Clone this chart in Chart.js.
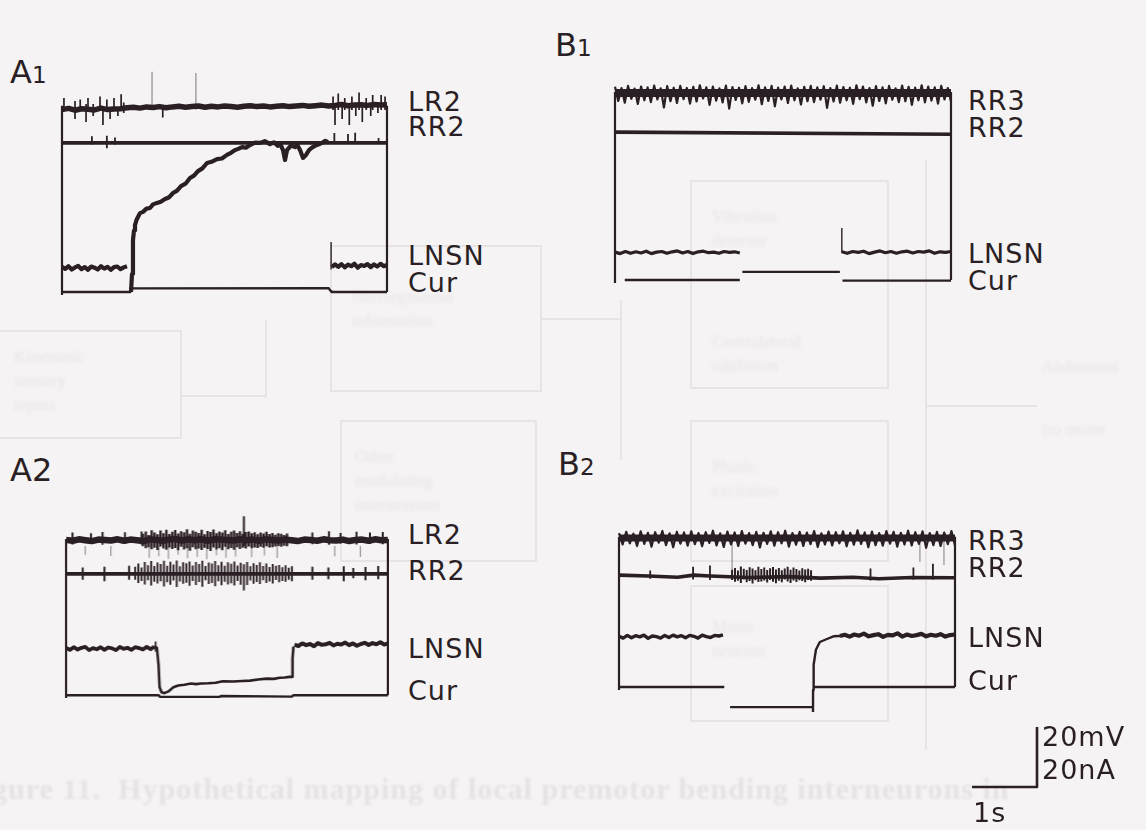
<!DOCTYPE html>
<html lang="en">
<head>
<meta charset="UTF-8">
<title>LNSN current injection records</title>
<script src="https://cdn.jsdelivr.net/npm/chart.js"></script>
<style>
  body { margin: 0; background: #f5f3f4; }
  .page {
    position: relative; width: 1146px; height: 830px; overflow: hidden;
    background: #f5f3f4; color: #2a1f24;
    font-family: 'DejaVu Sans', sans-serif;
  }
  /* faint show-through of the figure printed on the other side */
  .ghost { position: absolute; border: 2px solid #e8e4e6; }
  .ghost-line { position: absolute; background: #e8e4e6; }
  .ghost-text {
    position: absolute; color: #e9e5e7; font-family: 'Liberation Serif', serif;
    font-size: 17px; line-height: 24px; filter: blur(1.6px); white-space: nowrap;
  }
  .caption {
    position: absolute; left: -8px; top: 772px; color: #e6e2e4;
    font-family: 'Liberation Serif', serif; font-weight: bold; font-size: 30px; letter-spacing: 1px;
    white-space: nowrap; filter: blur(1px);
  }
  .panel { position: absolute; }
  .trace-label { position: absolute; font-size: 27px; line-height: 27px; letter-spacing: 1px; white-space: nowrap; }
  .panel-label { position: absolute; font-size: 32px; line-height: 32px; white-space: nowrap; }
  .panel-label .sm { font-size: 23px; }
</style>
</head>
<body>
<div class="page" id="page">
  <div class="ghost" style="left:-4px;top:330px;width:182px;height:105px"></div>
  <div class="ghost" style="left:330px;top:245px;width:208px;height:143px"></div>
  <div class="ghost" style="left:340px;top:420px;width:193px;height:138px"></div>
  <div class="ghost" style="left:690px;top:180px;width:195px;height:205px"></div>
  <div class="ghost" style="left:690px;top:420px;width:195px;height:138px"></div>
  <div class="ghost" style="left:690px;top:585px;width:195px;height:133px"></div>
  <div class="ghost-line" style="left:925px;top:160px;width:2px;height:590px"></div>
  <div class="ghost-line" style="left:180px;top:395px;width:85px;height:2px"></div>
  <div class="ghost-line" style="left:265px;top:320px;width:2px;height:78px"></div>
  <div class="ghost-line" style="left:540px;top:318px;width:80px;height:2px"></div>
  <div class="ghost-line" style="left:620px;top:300px;width:2px;height:160px"></div>
  <div class="ghost-line" style="left:927px;top:405px;width:110px;height:2px"></div>
  <div class="ghost-text" style="left:14px;top:345px">Kinematic<br>sensory<br>inputs</div>
  <div class="ghost-text" style="left:352px;top:285px">Intersegmental<br>information</div>
  <div class="ghost-text" style="left:355px;top:445px">Other<br>modulating<br>interneurons</div>
  <div class="ghost-text" style="left:712px;top:205px">Vibration<br>detector</div>
  <div class="ghost-text" style="left:712px;top:330px">Contralateral<br>inhibition</div>
  <div class="ghost-text" style="left:712px;top:455px">Phasic<br>excitation</div>
  <div class="ghost-text" style="left:712px;top:615px">Motor<br>neurons</div>
  <div class="ghost-text" style="left:1042px;top:355px">Abdominal</div>
  <div class="ghost-text" style="left:1042px;top:418px">(to motor</div>
  <div class="caption">gure 11.&nbsp; Hypothetical mapping of local premotor bending interneurons in</div>

  <div class="panel" id="a1"><canvas></canvas></div>
  <div class="panel" id="b1"><canvas></canvas></div>
  <div class="panel" id="a2"><canvas></canvas></div>
  <div class="panel" id="b2"><canvas></canvas></div>
  <div class="panel" id="bar"><canvas></canvas></div>
</div>

<script>
// ---- data: time in s, deflections in mV (voltage) or nA (Cur) from each trace's own baseline
// [t, v] points, [t, null] = pen lifted
// spikes: [t, low, high]

const a1Sweep = 5.0;
const a1Names = ['LR2', 'RR2', 'LNSN', 'Cur'];
const a1Cur = [[0, 0], [1.05, 0], [1.05, 1.2], [4.1, 1.3], [4.14, 0.2], [4.15, 0], [5.0, 0]];
const a1LnsnPre = [0.4, -0.3, 0.6, -0.5, 0.2, 0.7, -0.4, 0.3, -0.6, 0.5,
                   0.1, -0.5, 0.6, -0.2, 0.4, -0.6, 0.3, 0.5, -0.4, 0.2, 0.6];     // t 0..1.0, step 0.05
const a1LnsnStep = [[1.062, -8], [1.077, -2], [1.092, 9.3], [1.108, 12.5], [1.123, 14.3], [1.146, 16],
  [1.169, 17], [1.2, 18.3], [1.246, 18.7], [1.3, 19.8], [1.354, 20], [1.4, 21.2], [1.462, 21.7],
  [1.52, 22.1], [1.585, 23], [1.65, 23.6], [1.708, 25], [1.77, 25.8], [1.831, 27.3], [1.9, 28.1],
  [1.969, 30], [2.03, 30.8], [2.092, 32.3], [2.16, 33.2], [2.231, 35], [2.3, 35.4], [2.385, 36.3],
  [2.46, 36.5], [2.538, 37.7], [2.6, 38.4], [2.662, 39.3], [2.72, 39.8], [2.769, 40.3], [2.83, 40.1],
  [2.892, 41], [2.97, 41.8], [3.046, 41.7], [3.12, 42.3], [3.2, 41.3], [3.26, 41.9], [3.323, 40.7],
  [3.36, 41.3], [3.4, 39.3], [3.431, 36], [3.462, 39.3], [3.52, 40.8], [3.585, 40.3], [3.62, 41],
  [3.662, 39.3], [3.708, 36.7], [3.754, 37.7], [3.8, 39.3], [3.85, 40.2], [3.892, 40.7], [3.95, 41.2],
  [4.0, 41.7], [4.05, 42.4], [4.092, 42]];
const a1LnsnPost = [0.3, 1.2, 0.4, 1.3, 0.2, 1.1, 0.6, 1.4, 0.1, 1.0,
                    0.7, 1.3, 0.3, 1.2, 0.5, 1.4, 0.6, 1.0];                         // t 4.15..5.0
const a1LnsnSpikes = [[4.14, -0.5, 8.7]];
const a1Rr2Spikes = [[0.46, -0.5, 2.2], [0.69, -1.8, 2.4], [0.815, -0.5, 1.8], [4.19, -0.3, 3.3],
  [4.4, -0.3, 3.0], [4.51, -0.3, 3.4], [4.87, -0.3, 1.6]];
const a1Lr2Base = [-0.9, -0.5, -1.1, -0.6, -0.8, -1.0, -0.4, -0.9, -0.7, -0.6,
                   -0.3, -0.1, -0.4, 0.0, -0.2, 0.1, -0.3, 0.0, 0.2, -0.1,
                   0.1, 0.3, -0.1, 0.2, 0.0, 0.3, 0.1, -0.1, 0.2, 0.4,
                   0.1, 0.3, 0.0, 0.2, 0.4, 0.1, 0.3, 0.5, 0.2, 0.4,
                   0.6, 0.3, 0.5, 0.8, 0.4, 0.6, 0.7, 0.5, 0.8, 0.6, 0.7];             // t 0..5.0, step 0.1
const a1Lr2Spikes = [[0.03, -1, 3], [0.2, -4, 2], [0.28, -1, 2.5], [0.37, -5, 1], [0.4, -1, 3],
  [0.48, -3, 1], [0.585, -1, 3.5], [0.63, -6, 0], [0.69, -1, 2.5], [0.74, -4, 0], [0.8, -1, 3],
  [0.86, -3, 0], [0.91, -1, 4.2], [0.95, -2, 1.5], [1.55, -3.5, 0],
  [4.17, -1, 3.5], [4.2, -6, 0], [4.25, -1, 4.5], [4.31, -4, 0], [4.35, -1, 3], [4.42, -6, 0],
  [4.46, -1, 3.5], [4.52, -3, 0], [4.57, -1, 4.8], [4.62, -5, 0], [4.68, -1, 3], [4.75, -3, 0],
  [4.78, -1, 4], [4.86, -2, 1], [4.91, -1, 4], [4.97, -1, 3.5]];
const a1Lr2Tall = [[1.385, -1, 11.7], [2.06, -1, 11.3]];

const b1Sweep = 5.17;
const b1Names = ['RR3', 'RR2', 'LNSN', 'Cur'];
const b1Cur = [[0.15, 0], [1.92, 0], [1.92, null], [1.96, 2.7], [3.46, 2.7], [3.46, null], [3.5, -0.2], [5.17, -0.2]];
const b1LnsnPre = [0.3, -0.2, 0.5, -0.1, 0.4, 0.0, 0.6, -0.2, 0.3, 0.5,
                   -0.1, 0.4, 0.7, 0.0, 0.5, -0.2, 0.4, 0.6, 0.1, 0.3,
                   -0.1, 0.5, 0.2, 0.4, 0.0];                                          // t 0..1.92, step 0.08
const b1LnsnPost = [0.4, -0.1, 0.5, 0.2, 0.6, -0.2, 0.3, 0.7, 0.1, 0.5,
                    -0.1, 0.4, 0.6, 0.0, 0.5, 0.3, 0.7, -0.1, 0.4, 0.2, 0.5];          // t 3.49..5.17
const b1LnsnSpikes = [[3.49, 0, 8.3]];
const b1Rr2 = [[0, 0], [5.17, -0.7]];
const b1Rr3Band = [2.1, -2.6, 1.7, -3.2, 2.4, -1.9, 1.5, -3.6, 2.2, -2.4,
                   1.9, -3.0, 2.5, -2.1, 1.6, -4.8, 2.3, -2.7, 1.8, -3.3,
                   2.4, -2.0, 1.7, -3.5, 2.1, -2.8, 2.6, -1.8, 1.9, -3.9,
                   2.2, -2.5, 1.6, -3.1, 2.5, -5.2, 2.0, -2.3, 1.8, -3.4,
                   2.3, -2.9, 1.7, -2.2, 2.6, -3.7, 1.9, -2.6, 2.4, -4.4,
                   1.8, -2.1, 2.2, -3.3, 2.5, -2.4, 1.6, -3.8, 2.1, -2.7,
                   2.4, -3.0, 1.9, -2.2, 2.3, -4.9, 1.7, -2.8, 2.5, -3.2,
                   2.0, -2.4, 1.8, -3.6, 2.6, -2.0, 2.2, -3.1, 1.7, -4.2,
                   2.3, -2.6, 1.9, -3.4, 2.4, -2.2, 1.6, -3.0, 2.5, -2.7,
                   2.1, -3.9, 1.8, -2.4, 2.6, -3.1, 2.2, -2.5, 1.9, -3.5,
                   2.4, -2.1, 1.7, -2.9];                                              // t 0..5.17, step 0.0502

const a2Sweep = 5.03;
const a2Names = ['LR2', 'RR2', 'LNSN', 'Cur'];
const a2Cur = [[0, 0], [1.45, 0], [1.47, -0.6], [2.4, -0.6], [2.42, -0.3], [3.53, -0.5], [3.55, 0], [5.03, 0]];
const a2LnsnPre = [0.2, -0.4, 0.5, -0.3, 0.3, 0.6, -0.5, 0.2, -0.2, 0.5,
                   -0.4, 0.4, 0.1, -0.5, 0.6, -0.1, 0.3, -0.4, 0.5, 0.2,
                   -0.3, 0.6, -0.2, 0.7];                                              // t 0..1.38, step 0.06
const a2LnsnStep = [[1.38, 0.7], [1.42, 0.3], [1.446, -5.7], [1.462, -13.3], [1.492, -15], [1.538, -15.3],
  [1.6, -14.7], [1.677, -13.3], [1.754, -12.7], [1.85, -12.4], [1.954, -12], [2.03, -12.2], [2.108, -12],
  [2.22, -11.9], [2.338, -11.7], [2.45, -11.2], [2.615, -11.3], [2.75, -11.1], [2.877, -11], [3.0, -10.6],
  [3.138, -10.3], [3.25, -10.4], [3.338, -10], [3.42, -9.9], [3.492, -9.7], [3.538, -9.7], [3.54, -3.3], [3.554, 0.7]];
const a2LnsnPost = [1.4, 0.9, 1.8, 1.2, 1.6, 0.8, 1.9, 1.3, 1.5, 2.0,
                    1.1, 1.7, 1.4, 2.1, 1.2, 1.8, 1.0, 1.6, 2.0, 1.3,
                    1.9, 1.5, 2.2, 1.4, 1.8];                                          // t 3.57..5.03, step 0.061
const a2LnsnSpikes = [[1.40, -1, 2.5]];
const a2Rr2Spikes = [[0.26, -2, 2.2], [0.6, -2.5, 2.5], [0.985, -2, 2.8], [3.85, -2, 2.5], [4.1, -1.8, 2.2],
  [4.34, -2.5, 2.6], [4.49, -1.5, 2], [4.68, -2.2, 2.4], [4.88, -1.8, 2.7]];
const a2Rr2BurstHi = [2.5, 3.6, 2.2, 4.1, 3.0, 4.4, 2.7, 3.9, 3.4, 4.5,
                      2.8, 4.2, 3.2, 4.6, 2.6, 4.0, 3.7, 4.3, 2.9, 4.1,
                      3.4, 4.5, 2.7, 3.9, 3.6, 4.4, 3.0, 4.2, 2.8, 4.0,
                      3.5, 4.3, 2.9, 3.8, 3.3, 4.1, 2.6, 3.7, 3.1, 4.0,
                      2.7, 3.6, 2.4, 3.4, 2.8, 3.1, 2.3, 3.0, 2.1, 2.6];
const a2Rr2BurstLo = [-2.0, -3.1, -2.4, -3.6, -2.2, -4.0, -2.7, -3.3, -2.5, -4.3,
                      -2.9, -3.7, -2.3, -4.5, -2.6, -3.4, -3.0, -4.1, -2.4, -3.8,
                      -2.8, -4.4, -2.2, -3.5, -3.1, -4.2, -2.5, -3.9, -2.7, -3.6,
                      -3.2, -4.0, -2.4, -3.7, -5.7, -3.8, -2.3, -3.4, -2.8, -3.5,
                      -2.2, -3.1, -2.6, -3.3, -2.1, -2.9, -2.4, -2.7, -2.0, -2.5];     // t 1.08.., step 0.05
const a2Lr2Base = [0.1, -0.2, 0.3, 0.0, -0.3, 0.2, 0.1, -0.1, 0.3, -0.2,
                   0.2, 0.0, -0.3, 0.3, 0.1, -0.2, 0.2, 0.4, -0.1, 0.3,
                   0.0, 0.4, -0.2, 0.3, 0.2, 0.1, -0.1, 0.3, 0.0, 0.2,
                   -0.2, 0.3, 0.1, -0.1, 0.2, 0.0, -0.3, 0.2, 0.1, -0.2,
                   0.3, 0.0, -0.1, 0.2, -0.3, 0.1, 0.2, -0.2, 0.3, 0.0, 0.1];         // t 0..5.03, step 0.1006
const a2Lr2Spikes = [[0.1, -1.5, 2.6], [0.39, -1.2, 2.4], [0.57, -1.6, 2.8], [0.92, -1.3, 2.7], [1.18, -1.5, 3.0],
  [3.85, -1.4, 2.6], [4.11, -1.6, 3.1], [4.29, -1.2, 2.5], [4.54, -1.5, 2.9], [4.75, -1.3, 2.6],
  [4.95, -1.4, 2.8], [2.78, -2, 8.2]];
const a2Lr2BurstHi = [2.2, 3.0, 1.8, 3.4, 2.6, 2.0, 3.3, 2.4, 3.6, 2.1,
                      2.9, 3.5, 2.3, 3.1, 2.7, 3.8, 2.2, 3.3, 2.9, 2.5,
                      3.6, 2.0, 3.2, 2.8, 3.7, 2.4, 3.0, 2.6, 3.4, 2.1,
                      2.9, 3.3, 2.5, 3.1, 2.2, 2.8, 3.0, 2.4, 2.7, 2.0,
                      2.6, 2.3, 2.9, 2.1, 2.5, 1.9, 2.4, 2.2, 1.8, 2.3];
const a2Lr2BurstLo = [-2.1, -2.8, -2.4, -3.1, -2.6, -3.4, -2.2, -2.9, -3.3, -2.5,
                      -3.0, -2.7, -3.5, -2.3, -3.2, -2.8, -3.6, -2.4, -3.1, -2.9,
                      -3.4, -2.6, -3.0, -3.7, -2.5, -3.2, -2.8, -3.5, -2.3, -3.1,
                      -2.7, -3.3, -2.4, -3.0, -2.6, -2.9, -2.2, -2.8, -2.5, -2.7,
                      -2.3, -2.6, -2.1, -2.5, -2.4, -2.2, -2.0, -2.3, -1.9, -2.1];     // t 1.2.., step 0.046
const a2Lr2Ticks = [[0.3, -5, -2], [0.7, -5.4, -2], [1.3, -6, -2], [1.45, -5.5, -2], [1.6, -6.5, -2],
  [1.75, -5, -2], [1.9, -6.2, -2], [2.05, -5.8, -2], [2.2, -6.6, -2], [2.35, -5.2, -2], [2.5, -6.0, -2],
  [2.65, -5.6, -2], [2.9, -5.9, -2], [3.1, -5.3, -2], [3.3, -6.1, -2], [4.2, -5.5, -2], [4.6, -5.8, -2]];

const b2Sweep = 5.17;
const b2Names = ['RR3', 'RR2', 'LNSN', 'Cur'];
const b2Cur = [[0, 0], [1.62, 0], [1.62, null], [1.71, -6.7], [2.97, -6.7], [2.97, null], [2.985, 0], [5.17, 0]];
const b2LnsnPre = [0.2, -0.4, 0.5, -0.3, 0.4, 0.0, 0.6, -0.5, 0.3, 0.1,
                   -0.4, 0.5, -0.2, 0.6, 0.0, 0.4, -0.3, 0.5, 0.2, -0.4,
                   0.6, 0.1, -0.2, 0.5, 0.3, 0.7];                                     // t 0..1.6, step 0.064
const b2LnsnStep = [[2.985, -25], [2.986, -17.7], [2.995, -9.3], [3.03, -4.3], [3.09, -1.7],
  [3.2, -0.7], [3.3, 0.2], [3.4, 0.3]];
const b2LnsnPost = [0.3, 0.7, 0.1, 0.8, 0.4, 1.1, 0.2, 0.6, 0.9, 0.0,
                    0.7, 0.5, 1.2, 0.1, 0.8, 0.3, 0.6, 1.0, 0.2, 0.7,
                    0.4, 0.9, 0.1, 0.6, 0.8];                                          // t 3.4..5.17, step 0.0737
const b2Rr2 = [[0, 0], [0.45, -0.3], [0.9, -0.7], [1.15, 0], [1.4, -0.3], [2.0, -0.8], [2.6, -0.5],
  [3.1, -1], [3.6, -0.7], [4.0, -1.2], [4.5, -0.8], [5.17, -0.9]];
const b2Rr2Spikes = [[0.48, -1.2, 1.5], [1.14, -1.5, 2.8], [1.4, -1.6, 3.2], [3.87, -1.8, 2.2],
  [4.53, -1.5, 2.5], [4.83, -1.5, 3.8]];
const b2Rr2BurstHi = [1.8, 2.4, 1.5, 2.9, 2.1, 1.7, 2.6, 2.2, 1.6, 2.8,
                      2.0, 2.5, 1.7, 2.3, 2.7, 1.9, 2.4, 1.6, 2.2, 2.8,
                      1.8, 2.5, 2.0, 1.5, 2.3, 1.9, 2.1, 1.6];
const b2Rr2BurstLo = [-1.6, -2.2, -1.9, -2.6, -1.5, -2.4, -2.0, -2.8, -1.7, -2.3,
                      -2.1, -1.8, -2.5, -1.6, -2.2, -2.7, -1.9, -2.4, -1.5, -2.1,
                      -2.6, -1.8, -2.3, -1.7, -2.0, -2.4, -1.6, -1.9];                 // t 1.74.., step 0.045
const b2Rr3Band = [1.6, -2.2, 2.0, -1.8, 1.4, -2.7, 2.2, -2.0, 1.7, -2.9,
                   1.9, -1.6, 2.3, -2.4, 1.5, -3.1, 2.0, -1.9, 1.8, -2.6,
                   2.2, -2.1, 1.6, -2.8, 1.9, -1.7, 2.4, -2.5, 1.5, -3.0,
                   2.1, -2.2, 1.8, -2.7, 2.3, -1.9, 1.6, -2.4, 2.0, -3.2,
                   1.7, -2.0, 2.2, -2.6, 1.9, -1.8, 2.4, -2.9, 1.6, -2.3,
                   2.0, -2.7, 1.8, -2.1, 2.3, -3.0, 1.5, -2.2, 2.1, -2.5,
                   1.9, -1.8, 2.2, -2.8, 1.7, -2.3, 2.5, -2.0, 1.8, -3.1,
                   2.1, -2.4, 1.6, -2.6, 2.3, -1.9, 2.0, -2.9, 1.7, -2.2,
                   2.4, -2.5, 1.9, -2.0, 2.2, -3.3, 1.6, -2.4, 2.0, -2.7,
                   1.8, -2.1, 2.3, -2.6];                                              // t 0..5.17, step 0.0556
const b2Rr3Ticks = [[1.74, -12, 0], [4.63, -8, 0], [5.0, -9, 0]];

// calibration bar
const barTime = 1;      // s
const barAmp = 20;      // mV / nA

// ---- layout (pixels) -------------------------------------------------------
const PX_PER_S = 65, PX_PER_UNIT = 3, PAD_X = 12;
const INK = '#2a1f24', INK_LIGHT = 'rgba(42,31,36,0.42)';

const layout = {
  a1: { frameLeft: 62, curY: 292, top: 60, bottom: 305, off: { cur: 0, lnsn: 8, rr2: 49.7, top: 61.7 },
        labelX: 408, labelY: [101, 126, 255, 282], tag: ['A', '1', true], tagX: 10, tagY: 72 },
  b1: { frameLeft: 615, curY: 280, top: 70, bottom: 295, off: { cur: 0, lnsn: 9, rr2: 49.3, top: 62.3 },
        labelX: 968, labelY: [100, 127, 253, 280], tag: ['B', '1', true], tagX: 555, tagY: 45 },
  a2: { frameLeft: 63, curY: 698, top: 500, bottom: 712, off: { cur: 0, lnsn: 16, rr2: 41.7, top: 53.3 },
        labelX: 408, labelY: [534, 570, 648, 690], tag: ['A', '2', false], tagX: 10, tagY: 470 },
  b2: { frameLeft: 619, curY: 687, top: 500, bottom: 725, off: { cur: 0, lnsn: 16.7, rr2: 37.3, top: 49.7 },
        labelX: 968, labelY: [540, 567, 637, 680], tag: ['B', '2', true], tagX: 558, tagY: 464 }
};

// ---- helpers ---------------------------------------------------------------
function pts(list, off) {
  return list.map(p => ({ x: p[0], y: p[1] === null ? null : p[1] + off }));
}
function seq(t0, dt, vals, off) {
  return vals.map((v, i) => ({ x: t0 + i * dt, y: v + off }));
}
function spikes(list, off) {
  const out = [];
  list.forEach(s => { out.push({ x: s[0], y: s[1] + off }, { x: s[0], y: s[2] + off }, { x: s[0], y: null }); });
  return out;
}
function train(t0, dt, lo, hi, off) {
  return spikes(lo.map((l, i) => [t0 + i * dt, l, hi[i]]), off);
}
function ds(data, width, color) {
  return { type: 'line', data, borderColor: color || INK, borderWidth: width, pointRadius: 0,
           fill: false, spanGaps: false, tension: 0, borderJoinStyle: 'round' };
}
function frame(sweep, off) {
  return ds([{ x: 0, y: off.cur - 1 }, { x: 0, y: off.top + 0.4 }, { x: 0, y: null },
             { x: sweep, y: off.cur }, { x: sweep, y: off.top + 0.4 }], 2.2);
}

function makeChart(id, L, sweep, datasets) {
  const box = document.getElementById(id);
  box.style.left = (L.frameLeft - PAD_X) + 'px';
  box.style.top = L.top + 'px';
  box.style.width = (sweep * PX_PER_S + 2 * PAD_X) + 'px';
  box.style.height = (L.bottom - L.top) + 'px';
  return new Chart(box.querySelector('canvas'), {
    type: 'line',
    data: { datasets },
    options: {
      responsive: true, maintainAspectRatio: false, animation: false, events: [],
      layout: { padding: 0 },
      plugins: { legend: { display: false }, tooltip: { enabled: false } },
      scales: {
        x: { type: 'linear', display: false, min: -PAD_X / PX_PER_S, max: sweep + PAD_X / PX_PER_S },
        y: { type: 'linear', display: false,
             min: -(L.bottom - L.curY) / PX_PER_UNIT, max: (L.curY - L.top) / PX_PER_UNIT }
      }
    }
  });
}

function addLabels(L, names) {
  const page = document.getElementById('page');
  names.forEach((n, i) => {
    const d = document.createElement('div');
    d.className = 'trace-label';
    d.textContent = n;
    d.style.left = L.labelX + 'px';
    d.style.top = (L.labelY[i] - 13) + 'px';
    page.appendChild(d);
  });
  const t = document.createElement('div');
  t.className = 'panel-label';
  t.innerHTML = L.tag[0] + (L.tag[2] ? '<span class="sm">' + L.tag[1] + '</span>' : L.tag[1]);
  t.style.left = L.tagX + 'px';
  t.style.top = (L.tagY - 16) + 'px';
  page.appendChild(t);
}

// ---- panels ----------------------------------------------------------------
(function () {
  const L = layout.a1, o = L.off;
  makeChart('a1', L, a1Sweep, [
    frame(a1Sweep, o),
    ds(pts(a1Cur, o.cur), 2.4),
    ds(pts([[0, 0], [a1Sweep, 0]], o.rr2), 3.6),
    ds(spikes(a1Rr2Spikes, o.rr2), 1.8),
    ds(seq(0, 0.1, a1Lr2Base, o.top), 5.5),
    ds(spikes(a1Lr2Spikes, o.top), 1.7),
    ds(spikes(a1Lr2Tall, o.top), 1.4, INK_LIGHT),
    ds(seq(0, 0.05, a1LnsnPre, o.lnsn), 4.2),
    ds(pts(a1LnsnStep, o.lnsn), 4.2),
    ds(seq(4.15, 0.05, a1LnsnPost, o.lnsn), 4.2),
    ds(spikes(a1LnsnSpikes, o.lnsn), 1.4)
  ]);
  addLabels(L, a1Names);
})();

(function () {
  const L = layout.b1, o = L.off;
  makeChart('b1', L, b1Sweep, [
    frame(b1Sweep, o),
    ds(pts(b1Cur, o.cur), 2.4),
    ds(pts(b1Rr2, o.rr2), 3.6),
    ds(pts([[0, 0], [b1Sweep, 0]], o.top), 8),
    ds(seq(0, 0.0502, b1Rr3Band, o.top), 2.2),
    ds(seq(0, 0.08, b1LnsnPre, o.lnsn), 3.2),
    ds(seq(3.49, 0.084, b1LnsnPost, o.lnsn), 3.2),
    ds(spikes(b1LnsnSpikes, o.lnsn), 1.4)
  ]);
  addLabels(L, b1Names);
})();

(function () {
  const L = layout.a2, o = L.off;
  makeChart('a2', L, a2Sweep, [
    frame(a2Sweep, o),
    ds(pts(a2Cur, o.cur), 2.4),
    ds(pts([[0, 0], [a2Sweep, 0]], o.rr2), 3.6),
    ds(spikes(a2Rr2Spikes, o.rr2), 2),
    ds(train(1.08, 0.05, a2Rr2BurstLo, a2Rr2BurstHi, o.rr2), 1.9),
    ds(spikes(a2Lr2Ticks, o.top), 1.3, INK_LIGHT),
    ds(seq(0, 0.1006, a2Lr2Base, o.top), 6.5),
    ds(spikes(a2Lr2Spikes, o.top), 2),
    ds(train(1.2, 0.046, a2Lr2BurstLo, a2Lr2BurstHi, o.top), 2.4),
    ds(seq(0, 0.06, a2LnsnPre, o.lnsn), 3.8),
    ds(spikes(a2LnsnSpikes, o.lnsn), 1.8),
    ds(pts(a2LnsnStep, o.lnsn), 2.6),
    ds(seq(3.57, 0.061, a2LnsnPost, o.lnsn), 4)
  ]);
  addLabels(L, a2Names);
})();

(function () {
  const L = layout.b2, o = L.off;
  makeChart('b2', L, b2Sweep, [
    frame(b2Sweep, o),
    ds(pts(b2Cur, o.cur), 2.4),
    ds(spikes(b2Rr3Ticks, o.top), 1.3, INK_LIGHT),
    ds(pts(b2Rr2, o.rr2), 3.6),
    ds(spikes(b2Rr2Spikes, o.rr2), 1.8),
    ds(train(1.74, 0.045, b2Rr2BurstLo, b2Rr2BurstHi, o.rr2), 2),
    ds(pts([[0, 0], [b2Sweep, 0]], o.top), 7),
    ds(seq(0, 0.0556, b2Rr3Band, o.top), 2.2),
    ds(seq(0, 0.064, b2LnsnPre, o.lnsn), 3.4),
    ds(pts(b2LnsnStep, o.lnsn), 2.4),
    ds(seq(3.4, 0.0737, b2LnsnPost, o.lnsn), 4.2)
  ]);
  addLabels(L, b2Names);
})();

// ---- calibration bar -------------------------------------------------------
(function () {
  const L = { frameLeft: 972, curY: 787, top: 717, bottom: 797 };
  makeChart('bar', L, barTime, [
    ds([{ x: 0, y: 0 }, { x: barTime, y: 0 }, { x: barTime, y: barAmp }], 2.6)
  ]);
  const page = document.getElementById('page');
  [['20mV', 1042, 736], ['20nA', 1042, 769], ['1s', 973, 812]].forEach(s => {
    const d = document.createElement('div');
    d.className = 'trace-label';
    d.textContent = s[0];
    d.style.left = s[1] + 'px';
    d.style.top = (s[2] - 13) + 'px';
    page.appendChild(d);
  });
})();
</script>
</body>
</html>
